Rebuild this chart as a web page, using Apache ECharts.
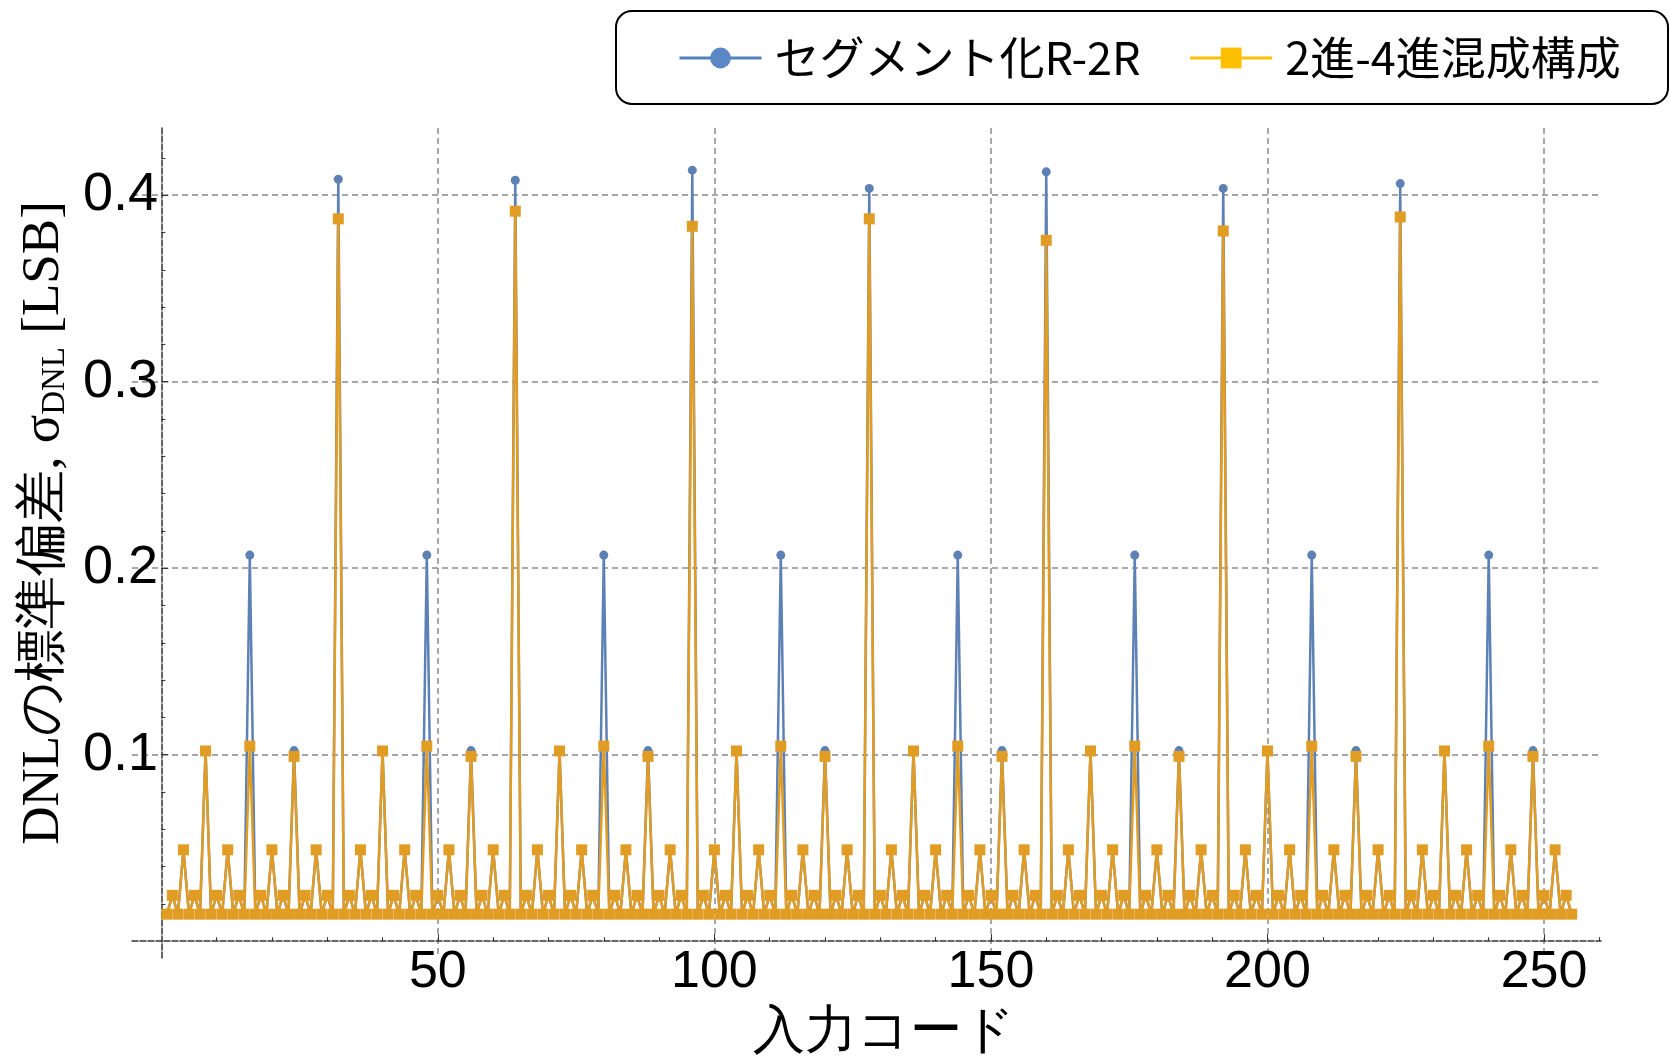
<!DOCTYPE html>
<html>
<head>
<meta charset="utf-8">
<title>DNLの標準偏差</title>
<script src="https://cdn.jsdelivr.net/npm/echarts@6/dist/echarts.min.js"></script>
<style>
  html, body { margin: 0; padding: 0; background: #fff; }
  #chart { width: 1670px; height: 1060px; }
</style>
</head>
<body>
<div id="chart"></div>
<script>
// input codes 1..255
var codes = [];
for (var c = 1; c <= 255; c++) codes.push(c);

// DNL std-dev, segmented R-2R (blue)
var segR2R = [
  0.0145, 0.0246, 0.0145, 0.049, 0.0145, 0.0246, 0.0145, 0.102, 0.0145, 0.0246, 0.0145, 0.049, 0.0145, 0.0246, 0.0145, 0.207,
  0.0145, 0.0246, 0.0145, 0.049, 0.0145, 0.0246, 0.0145, 0.1022, 0.0145, 0.0246, 0.0145, 0.049, 0.0145, 0.0246, 0.0145, 0.4085,
  0.0145, 0.0246, 0.0145, 0.049, 0.0145, 0.0246, 0.0145, 0.102, 0.0145, 0.0246, 0.0145, 0.049, 0.0145, 0.0246, 0.0145, 0.207,
  0.0145, 0.0246, 0.0145, 0.049, 0.0145, 0.0246, 0.0145, 0.1022, 0.0145, 0.0246, 0.0145, 0.049, 0.0145, 0.0246, 0.0145, 0.408,
  0.0145, 0.0246, 0.0145, 0.049, 0.0145, 0.0246, 0.0145, 0.102, 0.0145, 0.0246, 0.0145, 0.049, 0.0145, 0.0246, 0.0145, 0.207,
  0.0145, 0.0246, 0.0145, 0.049, 0.0145, 0.0246, 0.0145, 0.1022, 0.0145, 0.0246, 0.0145, 0.049, 0.0145, 0.0246, 0.0145, 0.4134,
  0.0145, 0.0246, 0.0145, 0.049, 0.0145, 0.0246, 0.0145, 0.102, 0.0145, 0.0246, 0.0145, 0.049, 0.0145, 0.0246, 0.0145, 0.207,
  0.0145, 0.0246, 0.0145, 0.049, 0.0145, 0.0246, 0.0145, 0.1022, 0.0145, 0.0246, 0.0145, 0.049, 0.0145, 0.0246, 0.0145, 0.4036,
  0.0145, 0.0246, 0.0145, 0.049, 0.0145, 0.0246, 0.0145, 0.102, 0.0145, 0.0246, 0.0145, 0.049, 0.0145, 0.0246, 0.0145, 0.207,
  0.0145, 0.0246, 0.0145, 0.049, 0.0145, 0.0246, 0.0145, 0.1022, 0.0145, 0.0246, 0.0145, 0.049, 0.0145, 0.0246, 0.0145, 0.4125,
  0.0145, 0.0246, 0.0145, 0.049, 0.0145, 0.0246, 0.0145, 0.102, 0.0145, 0.0246, 0.0145, 0.049, 0.0145, 0.0246, 0.0145, 0.207,
  0.0145, 0.0246, 0.0145, 0.049, 0.0145, 0.0246, 0.0145, 0.1022, 0.0145, 0.0246, 0.0145, 0.049, 0.0145, 0.0246, 0.0145, 0.4036,
  0.0145, 0.0246, 0.0145, 0.049, 0.0145, 0.0246, 0.0145, 0.102, 0.0145, 0.0246, 0.0145, 0.049, 0.0145, 0.0246, 0.0145, 0.207,
  0.0145, 0.0246, 0.0145, 0.049, 0.0145, 0.0246, 0.0145, 0.1022, 0.0145, 0.0246, 0.0145, 0.049, 0.0145, 0.0246, 0.0145, 0.4062,
  0.0145, 0.0246, 0.0145, 0.049, 0.0145, 0.0246, 0.0145, 0.102, 0.0145, 0.0246, 0.0145, 0.049, 0.0145, 0.0246, 0.0145, 0.207,
  0.0145, 0.0246, 0.0145, 0.049, 0.0145, 0.0246, 0.0145, 0.1022, 0.0145, 0.0246, 0.0145, 0.049, 0.0145, 0.0246, 0.0145
];

// DNL std-dev, binary/quaternary hybrid (orange)
var mixed24 = [
  0.0145, 0.0246, 0.0145, 0.049, 0.0145, 0.0246, 0.0145, 0.102, 0.0145, 0.0246, 0.0145, 0.049, 0.0145, 0.0246, 0.0145, 0.1046,
  0.0145, 0.0246, 0.0145, 0.049, 0.0145, 0.0246, 0.0145, 0.0991, 0.0145, 0.0246, 0.0145, 0.049, 0.0145, 0.0246, 0.0145, 0.3873,
  0.0145, 0.0246, 0.0145, 0.049, 0.0145, 0.0246, 0.0145, 0.102, 0.0145, 0.0246, 0.0145, 0.049, 0.0145, 0.0246, 0.0145, 0.1046,
  0.0145, 0.0246, 0.0145, 0.049, 0.0145, 0.0246, 0.0145, 0.0991, 0.0145, 0.0246, 0.0145, 0.049, 0.0145, 0.0246, 0.0145, 0.3914,
  0.0145, 0.0246, 0.0145, 0.049, 0.0145, 0.0246, 0.0145, 0.102, 0.0145, 0.0246, 0.0145, 0.049, 0.0145, 0.0246, 0.0145, 0.1046,
  0.0145, 0.0246, 0.0145, 0.049, 0.0145, 0.0246, 0.0145, 0.0991, 0.0145, 0.0246, 0.0145, 0.049, 0.0145, 0.0246, 0.0145, 0.3833,
  0.0145, 0.0246, 0.0145, 0.049, 0.0145, 0.0246, 0.0145, 0.102, 0.0145, 0.0246, 0.0145, 0.049, 0.0145, 0.0246, 0.0145, 0.1046,
  0.0145, 0.0246, 0.0145, 0.049, 0.0145, 0.0246, 0.0145, 0.0991, 0.0145, 0.0246, 0.0145, 0.049, 0.0145, 0.0246, 0.0145, 0.3873,
  0.0145, 0.0246, 0.0145, 0.049, 0.0145, 0.0246, 0.0145, 0.102, 0.0145, 0.0246, 0.0145, 0.049, 0.0145, 0.0246, 0.0145, 0.1046,
  0.0145, 0.0246, 0.0145, 0.049, 0.0145, 0.0246, 0.0145, 0.0991, 0.0145, 0.0246, 0.0145, 0.049, 0.0145, 0.0246, 0.0145, 0.3758,
  0.0145, 0.0246, 0.0145, 0.049, 0.0145, 0.0246, 0.0145, 0.102, 0.0145, 0.0246, 0.0145, 0.049, 0.0145, 0.0246, 0.0145, 0.1046,
  0.0145, 0.0246, 0.0145, 0.049, 0.0145, 0.0246, 0.0145, 0.0991, 0.0145, 0.0246, 0.0145, 0.049, 0.0145, 0.0246, 0.0145, 0.3808,
  0.0145, 0.0246, 0.0145, 0.049, 0.0145, 0.0246, 0.0145, 0.102, 0.0145, 0.0246, 0.0145, 0.049, 0.0145, 0.0246, 0.0145, 0.1046,
  0.0145, 0.0246, 0.0145, 0.049, 0.0145, 0.0246, 0.0145, 0.0991, 0.0145, 0.0246, 0.0145, 0.049, 0.0145, 0.0246, 0.0145, 0.3883,
  0.0145, 0.0246, 0.0145, 0.049, 0.0145, 0.0246, 0.0145, 0.102, 0.0145, 0.0246, 0.0145, 0.049, 0.0145, 0.0246, 0.0145, 0.1046,
  0.0145, 0.0246, 0.0145, 0.049, 0.0145, 0.0246, 0.0145, 0.0991, 0.0145, 0.0246, 0.0145, 0.049, 0.0145, 0.0246, 0.0145
];

var xTickLabels = [50, 100, 150, 200, 250];
var xMinorTicks = [10, 20, 30, 40, 50, 60, 70, 80, 90, 100, 110, 120, 130, 140, 150, 160, 170, 180, 190, 200, 210, 220, 230, 240, 250, 260];
var yTickLabels = [0.1, 0.2, 0.3, 0.4];
var yMinorTicks = [0.02, 0.04, 0.06, 0.08, 0.1, 0.12, 0.14, 0.16, 0.18, 0.2, 0.22, 0.24, 0.26, 0.28, 0.3, 0.32, 0.34, 0.36, 0.38, 0.4, 0.42];

var seriesNames = ["セグメント化R-2R", "2進-4進混成構成"];
var blue = "#5E81B5";
var orange = "#E19C24";

var gridDash = { type: [6, 4], color: "#8a8a8a", width: 1.5 };
var axisDash = { type: [6, 2], color: "#333", width: 1.5 };

var chart = echarts.init(document.getElementById("chart"));
var option = {
  backgroundColor: "#ffffff",
  animation: false,
  grid: {
    left: 132,
    right: 69,
    top: 128,
    bottom: 102,
    outerBoundsMode: "none"
  },
  legend: {
    left: 678,
    top: 33,
    padding: 0,
    itemWidth: 82,
    itemHeight: 26,
    itemGap: 48,
    textStyle: {
      fontSize: 45,
      lineHeight: 50,
      color: "#000",
      fontFamily: "Noto Sans CJK JP",
      padding: [0, 0, 0, 8]
    },
    data: [
      { name: seriesNames[0], itemStyle: { color: "#5B87C5" }, lineStyle: { color: "#4F81BD", width: 3 } },
      { name: seriesNames[1], itemStyle: { color: "#FFC000" }, lineStyle: { color: "#FFC000", width: 3 } }
    ]
  },
  xAxis: [
    {
      type: "value",
      min: -5.3,
      max: 260.3,
      position: "bottom",
      axisLine: { onZero: true, lineStyle: axisDash },
      axisTick: { show: true, inside: true, length: 7, customValues: xTickLabels, lineStyle: { color: "#333" } },
      axisLabel: {
        customValues: xTickLabels,
        fontSize: 52,
        color: "#000",
        fontFamily: "Liberation Sans",
        margin: -11
      },
      splitLine: { show: true, lineStyle: gridDash }
    },
    {
      type: "value",
      min: -5.3,
      max: 260.3,
      position: "bottom",
      axisLine: { show: false, onZero: true },
      axisTick: { show: true, inside: true, length: 4, customValues: xMinorTicks, lineStyle: { color: "#333" } },
      axisLabel: { show: false },
      splitLine: { show: false }
    }
  ],
  yAxis: [
    {
      type: "value",
      min: -0.009,
      max: 0.436,
      position: "left",
      axisLine: { onZero: true, lineStyle: axisDash },
      axisTick: { show: true, inside: true, length: 7, customValues: yTickLabels, lineStyle: { color: "#333" } },
      axisLabel: {
        customValues: yTickLabels,
        fontSize: 54,
        color: "#000",
        fontFamily: "Liberation Sans",
        margin: -26
      },
      splitLine: { show: true, lineStyle: gridDash }
    },
    {
      type: "value",
      min: -0.009,
      max: 0.436,
      position: "left",
      axisLine: { show: false, onZero: true },
      axisTick: { show: true, inside: true, length: 4, customValues: yMinorTicks, lineStyle: { color: "#333" } },
      axisLabel: { show: false },
      splitLine: { show: false }
    }
  ],
  graphic: [
    {
      // legend frame
      type: "rect",
      z: 1,
      shape: { x: 616, y: 11, width: 1052, height: 93, r: 16 },
      style: { fill: "#fff", stroke: "#000", lineWidth: 2 }
    },
    {
      type: "text",
      x: 44,
      y: 523,
      rotation: Math.PI / 2,
      style: {
        text: "{n|DNLの標準偏差, σ}{s|DNL}{n| [LSB]}",
        align: "center",
        verticalAlign: "middle",
        rich: {
          n: { fontSize: 53, fontFamily: "Liberation Serif", color: "#000", lineHeight: 60, verticalAlign: "middle" },
          s: { fontSize: 33, fontFamily: "Liberation Serif", color: "#000", verticalAlign: "middle", padding: [22, 0, 0, 0] }
        }
      }
    },
    {
      type: "text",
      x: 884,
      y: 1033,
      style: {
        text: "入力コード",
        align: "center",
        verticalAlign: "middle",
        fontSize: 52,
        fontFamily: "Liberation Serif",
        fill: "#000"
      }
    }
  ],
  series: [
    {
      name: seriesNames[0],
      type: "line",
      xAxisIndex: 0,
      yAxisIndex: 0,
      data: codes.map(function (c, i) { return [c, segR2R[i]]; }),
      symbol: "circle",
      symbolSize: 9,
      lineStyle: { width: 2.5, color: blue },
      itemStyle: { color: blue },
      z: 3
    },
    {
      name: seriesNames[1],
      type: "line",
      xAxisIndex: 0,
      yAxisIndex: 0,
      data: codes.map(function (c, i) { return [c, mixed24[i]]; }),
      symbol: "rect",
      symbolSize: 11,
      lineStyle: { width: 2.5, color: orange },
      itemStyle: { color: orange },
      z: 4
    }
  ]
};
chart.setOption(option);
</script>
</body>
</html>
